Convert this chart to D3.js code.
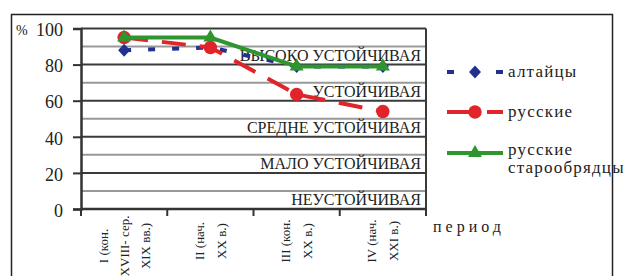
<!DOCTYPE html>
<html><head><meta charset="utf-8">
<script src="https://cdn.jsdelivr.net/npm/d3@7"></script>
<style>
html,body{margin:0;padding:0;background:#fff;}
svg, svg text{font-family:"Liberation Serif","Tinos","DejaVu Serif","Noto Serif",serif !important;}
</style></head>
<body>
<svg id="c" width="628" height="276"></svg>
<script>
const categories = ["I", "II", "III", "IV"];
const categoryLabels = [
  ["I (кон.", "XVIII- сер.", "XIX вв.)"],
  ["II (нач.", "XX в.)"],
  ["III (кон.", "XX в.)"],
  ["IV (нач.", "XXI в.)"]
];
const altai = [88, 89.5, 79, 79];
const russians = [95, 89.5, 63.5, 54];
const oldBelievers = [95, 95, 79, 79];
const yTicks = [0, 20, 40, 60, 80, 100];
const minorLines = [10, 30, 50, 70, 90];
const bandLabels = [
  {v: 80, t: "ВЫСОКО УСТОЙЧИВАЯ"},
  {v: 60, t: "УСТОЙЧИВАЯ"},
  {v: 40, t: "СРЕДНЕ УСТОЙЧИВАЯ"},
  {v: 20, t: "МАЛО УСТОЙЧИВАЯ"},
  {v: 0, t: "НЕУСТОЙЧИВАЯ"}
];
const seriesNames = ["алтайцы", "русские", ["русские", "старообрядцы"]];

const FONT = "'Liberation Serif', 'DejaVu Serif', serif";
const svg = d3.select("#c").attr("font-family", FONT);
const L = 81, R = 426, T = 28.5, B = 209;
const x = d3.scaleBand().domain(categories).range([L, R]);
const y = d3.scaleLinear().domain([0, 100]).range([B, T]);

// outer frame
svg.append("rect").attr("x", 11.5).attr("y", 14.5).attr("width", 601).attr("height", 300)
  .attr("fill", "none").attr("stroke", "#222").attr("stroke-width", 1.5);

// minor gridlines
svg.append("g").selectAll("line").data(minorLines).join("line")
  .attr("x1", L).attr("x2", R).attr("y1", d => y(d)).attr("y2", d => y(d))
  .attr("stroke", "#999").attr("stroke-width", 2);
// major gridlines
svg.append("g").selectAll("line").data(yTicks.filter(d => d > 0)).join("line")
  .attr("x1", L).attr("x2", R).attr("y1", d => y(d)).attr("y2", d => y(d))
  .attr("stroke", "#3a3a3a").attr("stroke-width", 2);
// right border
svg.append("line").attr("x1", R).attr("x2", R).attr("y1", T).attr("y2", B)
  .attr("stroke", "#3a3a3a").attr("stroke-width", 2);

// band labels
svg.append("g").selectAll("text").data(bandLabels).join("text")
  .attr("x", R - 5).attr("y", d => y(d.v) - 4).attr("text-anchor", "end")
  .attr("font-family", FONT).attr("font-size", 16).attr("fill", "#222").text(d => d.t);

// y axis
const yAxis = d3.axisLeft(y).tickValues(yTicks).tickSize(8).tickPadding(10).tickFormat(d3.format("d"));
const gy = svg.append("g").attr("transform", `translate(${L},0)`).call(yAxis).attr("font-family", FONT);
gy.select(".domain").attr("stroke", "#333").attr("stroke-width", 2.5);
gy.selectAll(".tick line").attr("stroke", "#333").attr("stroke-width", 2);
gy.selectAll(".tick text").attr("font-size", 18).attr("font-family", FONT)
  .attr("fill", "#222").attr("dy", "0.4em");
svg.append("text").attr("x", 16).attr("y", 35).attr("font-size", 14).attr("font-family", FONT)
  .attr("fill", "#222").text("%");

// x axis
const xTickPos = categories.map(c => x(c)).concat([R]);
const gx = svg.append("g");
gx.append("line").attr("x1", L).attr("x2", R).attr("y1", B).attr("y2", B)
  .attr("stroke", "#333").attr("stroke-width", 2.5);
gx.selectAll("line.t").data(xTickPos).join("line").attr("class", "t")
  .attr("x1", d => d).attr("x2", d => d).attr("y1", B).attr("y2", B + 7)
  .attr("stroke", "#333").attr("stroke-width", 2);

// rotated category labels
categories.forEach((c, i) => {
  const lines = categoryLabels[i];
  const cx = x(c) + x.bandwidth() / 2;
  const gap = lines.length === 3 ? 21 : 22;
  const cy = lines.length === 3 ? 246 : 241;
  lines.forEach((t, j) => {
    const lx = cx + (j - (lines.length - 1) / 2) * gap;
    svg.append("text").attr("transform", `translate(${lx},${cy}) rotate(-90)`)
      .attr("text-anchor", "middle").attr("dominant-baseline", "central")
      .attr("font-family", FONT).attr("font-size", 13).attr("fill", "#222").text(t);
  });
});
svg.append("text").attr("x", 433).attr("y", 231.5).attr("font-size", 16).attr("font-family", FONT)
  .attr("letter-spacing", 4).attr("fill", "#222").text("период");

// series
const blue = "#23308f", red = "#e0252a", green = "#2f962f";
const px = i => x(categories[i]) + x.bandwidth() / 2;
const line = d3.line().x((d, i) => px(i)).y(d => y(d));

function drawSeries(vals, color, dash, marker) {
  svg.append("path").datum(vals).attr("d", line).attr("fill", "none")
    .attr("stroke", color).attr("stroke-width", 4).attr("stroke-dasharray", dash);
  svg.append("g").selectAll("path").data(vals).join("path")
    .attr("transform", (d, i) => `translate(${px(i)},${y(d)})`)
    .attr("d", marker).attr("fill", color);
}
const diamond = "M0,-6.5L6,0L0,6.5L-6,0Z";
const circle = d3.symbol().type(d3.symbolCircle).size(140)();
const triangle = d3.symbol().type(d3.symbolTriangle).size(85)();

drawSeries(altai, blue, "7,17", diamond);
drawSeries(russians, red, "24,14", circle);
drawSeries(oldBelievers, green, null, triangle);

// legend
const legend = [
  {y: 72, color: blue, dash: "7,42,7", marker: diamond, label: seriesNames[0], ty: [77]},
  {y: 112, color: red, dash: "22,18,16", marker: circle, label: seriesNames[1], ty: [117]},
  {y: 153, color: green, dash: null, marker: triangle, label: seriesNames[2], ty: [155, 173]}
];
legend.forEach(l => {
  const g = svg.append("g");
  g.append("line").attr("x1", 447).attr("x2", 503).attr("y1", l.y).attr("y2", l.y)
    .attr("stroke", l.color).attr("stroke-width", 4).attr("stroke-dasharray", l.dash);
  g.append("path").attr("transform", `translate(475,${l.y})`).attr("d", l.marker).attr("fill", l.color);
  const labels = Array.isArray(l.label) ? l.label : [l.label];
  labels.forEach((t, k) => {
    g.append("text").attr("x", 508).attr("y", l.ty[k]).attr("font-size", 17).attr("font-family", FONT)
      .attr("letter-spacing", 1.2).attr("fill", "#222").text(t);
  });
});
</script>
</body></html>
